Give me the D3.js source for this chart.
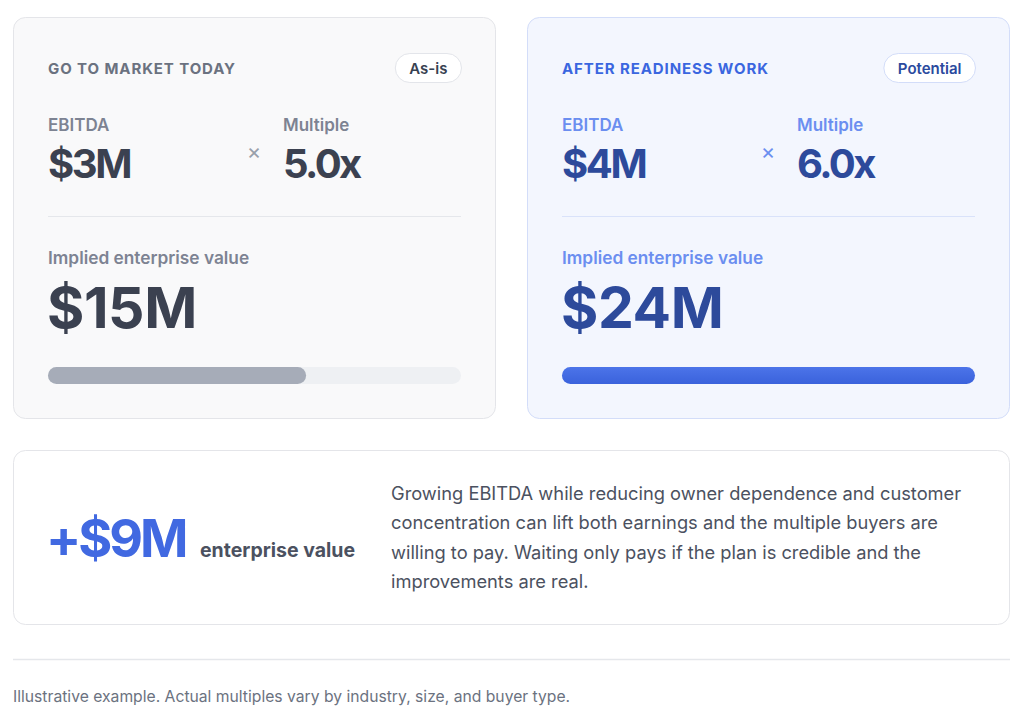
<!DOCTYPE html>
<html>
<head>
<meta charset="utf-8">
<script src="https://cdn.jsdelivr.net/npm/d3@7"></script>
<style>
  html, body { margin: 0; padding: 0; background: #ffffff; }
  svg { display: block; font-family: Inter, "Noto Sans", sans-serif; }
</style>
</head>
<body>
<svg id="chart" width="1024" height="722"></svg>
<script>
// ---- data ----
const scenarios = ["GO TO MARKET TODAY", "AFTER READINESS WORK"];
const badges = ["As-is", "Potential"];
const ebitdaValues = [3, 4];          // $M
const multipleValues = [5.0, 6.0];    // x
const enterpriseValues = [15, 24];    // $M
const upliftValue = 9;                // $M
const upliftLabel = "enterprise value";
const explanationLines = [
  "Growing EBITDA while reducing owner dependence and customer",
  "concentration can lift both earnings and the multiple buyers are",
  "willing to pay. Waiting only pays if the plan is credible and the",
  "improvements are real."
];
const footnote = "Illustrative example. Actual multiples vary by industry, size, and buyer type.";

// ---- styles per card ----
const themes = [
  { bg: "#f9f9fa", border: "#e4e5e9", title: "#6b7280", label: "#7d8392", value: "#3b4150",
    times: "#9aa0ab", divider: "#e5e7eb", badgeText: "#374151", badgeBorder: "#e3e5ea",
    track: "#eef0f3", fill: "#a6acb8" },
  { bg: "#f3f6fe", border: "#d3ddf9", title: "#3a66e0", label: "#6b8ef0", value: "#2d4a9b",
    times: "#6b8ef0", divider: "#d9e2fa", badgeText: "#2a4a9e", badgeBorder: "#d3ddf9",
    track: "#dfe7fb", fill: "#4169e1" }
];

const svg = d3.select("#chart");
const cardW = 483, cardH = 402, cardY = 17;
const cardX = d3.scaleOrdinal().domain([0, 1]).range([13, 527]);
const pad = 35;
const innerW = cardW - 2 * pad;
const barX = d3.scaleLinear().domain([0, d3.max(enterpriseValues)]).range([0, innerW]);

const defs = svg.append("defs");
const grad = defs.append("linearGradient").attr("id", "blueBar").attr("x1", 0).attr("y1", 0).attr("x2", 0).attr("y2", 1);
grad.append("stop").attr("offset", "0%").attr("stop-color", "#4c74e9");
grad.append("stop").attr("offset", "100%").attr("stop-color", "#3a62dc");

const cards = svg.selectAll("g.card")
  .data(scenarios.map((s, i) => ({ i, title: s, badge: badges[i], ebitda: ebitdaValues[i], mult: multipleValues[i], ev: enterpriseValues[i], t: themes[i] })))
  .join("g")
  .attr("class", "card")
  .attr("transform", d => `translate(${cardX(d.i)},${cardY})`);

cards.append("rect")
  .attr("x", 0.5).attr("y", 0.5).attr("width", cardW - 1).attr("height", cardH - 1)
  .attr("rx", 12).attr("fill", d => d.t.bg).attr("stroke", d => d.t.border);

// title
cards.append("text")
  .attr("x", pad).attr("y", 57)
  .attr("font-size", 15).attr("font-weight", 700).attr("letter-spacing", 0.9)
  .attr("fill", d => d.t.title)
  .text(d => d.title);

// badge
cards.each(function(d) {
  const g = d3.select(this);
  const t = g.append("text")
    .attr("font-size", 15).attr("font-weight", 600)
    .attr("fill", d.t.badgeText)
    .attr("text-anchor", "middle")
    .text(d.badge);
  const w = t.node().getComputedTextLength() + 28;
  const right = cardW - pad;
  g.append("rect")
    .attr("x", right - w + 0.5).attr("y", 36.5).attr("width", w).attr("height", 29)
    .attr("rx", 14.5).attr("fill", "#ffffff").attr("stroke", d.t.badgeBorder);
  t.attr("x", right - w / 2 + 0.5).attr("y", 56.5);
  t.raise();
});

// EBITDA / Multiple
const colX = [pad, 270];
cards.append("text").attr("x", colX[0]).attr("y", 114)
  .attr("font-size", 17).attr("font-weight", 600).attr("fill", d => d.t.label).text("EBITDA");
cards.append("text").attr("x", colX[1]).attr("y", 114)
  .attr("font-size", 17).attr("font-weight", 600).attr("fill", d => d.t.label).text("Multiple");
cards.append("text").attr("x", colX[0]).attr("y", 161)
  .attr("font-size", 40).attr("font-weight", 700).attr("letter-spacing", -2.4)
  .attr("fill", d => d.t.value).text(d => `$${d.ebitda}M`);
cards.append("text").attr("x", colX[1]).attr("y", 161)
  .attr("font-size", 40).attr("font-weight", 700).attr("letter-spacing", -2.6)
  .attr("fill", d => d.t.value).text(d => `${d.mult.toFixed(1)}x`);
cards.append("text").attr("x", 241).attr("y", 142)
  .attr("text-anchor", "middle")
  .attr("font-size", 22).attr("font-weight", 400).attr("fill", d => d.t.times).text("×");

// divider
cards.append("line").attr("x1", pad).attr("x2", cardW - pad).attr("y1", 199.5).attr("y2", 199.5)
  .attr("stroke", d => d.t.divider).attr("stroke-width", 1);

// implied EV
cards.append("text").attr("x", pad).attr("y", 247)
  .attr("font-size", 17.3).attr("font-weight", 600).attr("fill", d => d.t.label).text("Implied enterprise value");
cards.append("text").attr("x", pad - 1).attr("y", 311)
  .attr("font-size", 57).attr("font-weight", 700).attr("letter-spacing", -0.4)
  .attr("fill", d => d.t.value).text(d => `$${d.ev}M`);

// bar
cards.append("rect").attr("x", pad).attr("y", 350).attr("width", innerW).attr("height", 17)
  .attr("rx", 8.5).attr("fill", d => d.t.track);
cards.append("rect").attr("x", pad).attr("y", 350).attr("width", d => barX(d.ev)).attr("height", 17)
  .attr("rx", 8.5).attr("fill", d => d.i === 1 ? "url(#blueBar)" : d.t.fill);

// ---- summary card ----
const sum = svg.append("g").attr("transform", "translate(13,450)");
sum.append("rect").attr("x", 0.5).attr("y", 0.5).attr("width", 996).attr("height", 174)
  .attr("rx", 12).attr("fill", "#ffffff").attr("stroke", "#e4e5e9");
const big = sum.append("text").attr("x", 33).attr("y", 107)
  .attr("font-size", 52).attr("font-weight", 700).attr("letter-spacing", -3)
  .attr("fill", "#4169e1").text(`+$${upliftValue}M`);
sum.append("text").attr("x", 187).attr("y", 107)
  .attr("font-size", 19.5).attr("font-weight", 700).attr("fill", "#4b5160").text(upliftLabel);
sum.append("g").selectAll("text").data(explanationLines).join("text")
  .attr("x", 378).attr("y", (d, i) => 50 + i * 29.3)
  .attr("font-size", 18.3).attr("font-weight", 400).attr("fill", "#4b5160")
  .text(d => d);

// ---- footer ----
svg.append("line").attr("x1", 13).attr("x2", 1010).attr("y1", 659.5).attr("y2", 659.5)
  .attr("stroke", "#e5e7eb").attr("stroke-width", 1.5);
svg.append("text").attr("x", 13).attr("y", 702)
  .attr("font-size", 15.7).attr("fill", "#6b7280").text(footnote);
</script>
</body>
</html>
